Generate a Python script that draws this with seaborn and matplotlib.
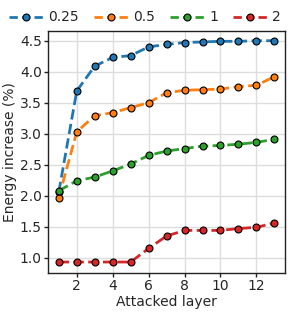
import numpy as np
import pandas as pd
import matplotlib
matplotlib.use("Agg")
import matplotlib.pyplot as plt
import seaborn as sns

# Values
layers = list(range(1, 14))
eps_025 = [2.06, 3.69, 4.09, 4.23, 4.26, 4.40, 4.44, 4.47, 4.48, 4.49, 4.49, 4.50, 4.50]
eps_05 = [1.97, 3.03, 3.29, 3.34, 3.42, 3.50, 3.66, 3.70, 3.71, 3.72, 3.76, 3.78, 3.92]
eps_1 = [2.08, 2.24, 2.30, 2.40, 2.51, 2.65, 2.72, 2.76, 2.80, 2.81, 2.83, 2.86, 2.91]
eps_2 = [0.93, 0.93, 0.93, 0.93, 0.93, 1.15, 1.35, 1.44, 1.44, 1.44, 1.47, 1.49, 1.56]
labels = ["0.25", "0.5", "1", "2"]

df = pd.DataFrame({
    "layer": layers * 4,
    "energy": eps_025 + eps_05 + eps_1 + eps_2,
    "eps": sum([[l] * len(layers) for l in labels], []),
})

sns.set_style("whitegrid")
plt.rcParams["font.family"] = ["DejaVu Sans"]

fig, ax = plt.subplots(figsize=(2.91, 3.14), dpi=100)
sns.lineplot(data=df, x="layer", y="energy", hue="eps", hue_order=labels,
             palette="tab10", marker="o", markersize=5, markeredgecolor="black",
             markeredgewidth=0.8, linestyle="--", linewidth=2, ax=ax)

for s in ax.spines.values():
    s.set_color("#222222")
    s.set_linewidth(1)
ax.tick_params(axis="both", which="both", direction="out", length=3, width=1,
               color="#222222", labelsize=10, pad=1.5, left=True, bottom=True)
ax.grid(color="#dddddd", linewidth=1)

ax.set_xticks([2, 4, 6, 8, 10, 12])
ax.set_yticks([1.0, 1.5, 2.0, 2.5, 3.0, 3.5, 4.0, 4.5])
ax.set_ylim(0.75, 4.65)
ax.set_xlim(0.4, 13.6)
ax.set_xlabel("Attacked layer", fontsize=10, labelpad=1)
ax.set_ylabel("Energy increase (%)", fontsize=10, labelpad=2)

leg = ax.legend(loc="lower center", bbox_to_anchor=(0.41, 1.0), ncol=4, frameon=False,
                fontsize=10, handlelength=2.4, columnspacing=1.1, handletextpad=0.4,
                borderaxespad=0.1)
for h in leg.get_lines():
    h.set_dashes([3, 1.5])

fig.subplots_adjust(left=0.165, right=0.98, top=0.90, bottom=0.13)
fig.savefig("out.png", dpi=100)
